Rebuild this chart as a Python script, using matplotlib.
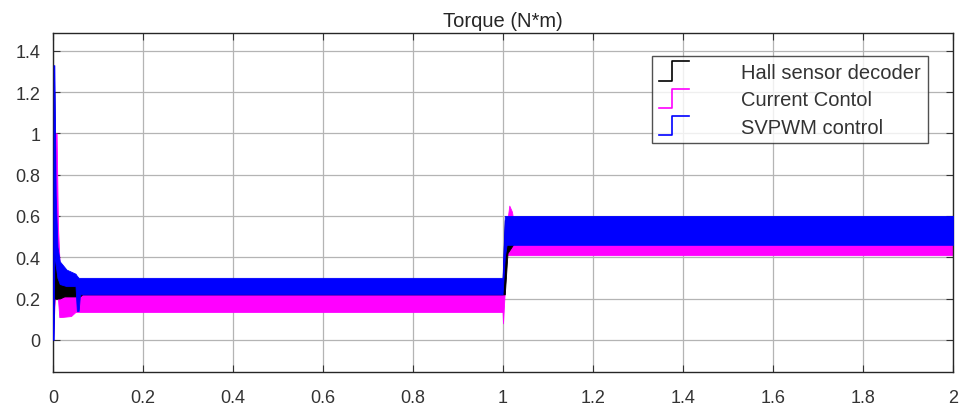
import numpy as np
import matplotlib.pyplot as plt
from matplotlib.lines import Line2D
from matplotlib.legend_handler import HandlerBase

plt.rcParams['font.family'] = ['Liberation Sans', 'DejaVu Sans']

# ripple band of each torque trace: time (s), lower and upper edge (N*m)
t_hall = [0, 0.003, 0.005, 0.009, 0.015, 0.025, 0.05, 0.06, 0.065, 0.999, 1.004, 1.01, 1.025, 2.0]
lo_hall = [0, 0.20, 0.20, 0.20, 0.20, 0.21, 0.21, 0.21, 0.22, 0.22, 0.22, 0.42, 0.47, 0.47]
hi_hall = [0, 1.20, 0.45, 0.30, 0.30, 0.27, 0.27, 0.29, 0.28, 0.28, 0.58, 0.58, 0.58, 0.58]

t_curr = [0, 0.004, 0.006, 0.008, 0.011, 0.014, 0.018, 0.04, 0.05, 0.999, 1.0, 1.003, 1.008, 1.014, 1.02, 1.025, 2.0]
lo_curr = [0, 0.20, 0.50, 0.50, 0.20, 0.11, 0.11, 0.115, 0.135, 0.135, 0.08, 0.20, 0.41, 0.41, 0.41, 0.41, 0.41]
hi_curr = [0, 0.60, 1.00, 1.00, 0.55, 0.40, 0.22, 0.22, 0.22, 0.22, 0.22, 0.50, 0.55, 0.65, 0.62, 0.55, 0.55]

t_svpwm = [0, 0.0015, 0.003, 0.006, 0.01, 0.015, 0.03, 0.05, 0.053, 0.057, 0.06, 0.999, 1.004, 1.008, 2.0]
lo_svpwm = [0, 0.0, 0.42, 0.36, 0.30, 0.27, 0.26, 0.26, 0.14, 0.14, 0.22, 0.22, 0.40, 0.46, 0.46]
hi_svpwm = [0, 1.33, 1.33, 0.70, 0.45, 0.38, 0.34, 0.32, 0.31, 0.30, 0.30, 0.30, 0.60, 0.60, 0.60]

labels = ['Hall sensor decoder', 'Current Contol', 'SVPWM control']
colors = ['black', '#ff00ff', '#0000ff']


class StepHandler(HandlerBase):
    # legend icon drawn as a small rising step, like the scope block legend
    def create_artists(self, legend, orig_handle, xdescent, ydescent,
                       width, height, fontsize, trans):
        x0, y0 = -xdescent, -ydescent
        xm = x0 + 0.45 * width
        xs = [x0, xm, xm, x0 + width]
        ys = [y0 - 0.2 * height, y0 - 0.2 * height, y0 + 1.15 * height, y0 + 1.15 * height]
        line = Line2D(xs, ys, color=orig_handle.get_color(), lw=1.2, transform=trans)
        return [line]


fig = plt.figure(figsize=(9.6, 4.1), dpi=100)
ax = fig.add_axes([53 / 960, 37 / 410, 900 / 960, 339 / 410])

# magenta first, black over it, blue on top
ax.fill_between(t_curr, lo_curr, hi_curr, color=colors[1], lw=0.6, zorder=2)
ax.fill_between(t_hall, lo_hall, hi_hall, color=colors[0], lw=0.6, zorder=3)
ax.fill_between(t_svpwm, lo_svpwm, hi_svpwm, color=colors[2], lw=0.6, zorder=4)

ax.set_xlim(0, 2)
ax.set_ylim(-0.156, 1.486)
ax.set_xticks(np.arange(0, 2.01, 0.2))
ax.set_xticklabels(['0', '0.2', '0.4', '0.6', '0.8', '1', '1.2', '1.4', '1.6', '1.8', '2'])
ax.set_yticks(np.arange(0, 1.41, 0.2))
ax.set_yticklabels(['0', '0.2', '0.4', '0.6', '0.8', '1', '1.2', '1.4'])
ax.grid(True, color='#b4b4b4', lw=0.9)
ax.set_axisbelow(True)
ax.tick_params(direction='in', top=True, right=True, length=5, width=0.8,
               labelsize=13, colors='#333333')
ax.tick_params(axis='y', pad=9)
ax.tick_params(axis='x', pad=12)
for s in ax.spines.values():
    s.set_linewidth(1.0)
    s.set_color('#262626')

ax.set_title('Torque (N*m)', fontsize=14.5, color='#262626', pad=5)

handles = [Line2D([], [], color=c) for c in colors]
leg = ax.legend(handles, labels, handler_map={Line2D: StepHandler()},
                loc='upper right', bbox_to_anchor=(0.972, 0.932),
                fontsize=14.5, frameon=True, fancybox=False, edgecolor='#262626',
                handlelength=1.5, handletextpad=2.6, labelspacing=0.42,
                borderpad=0.33, borderaxespad=0)
leg.get_frame().set_linewidth(1.0)
for txt in leg.get_texts():
    txt.set_color('#333333')

fig.savefig('out.png', dpi=100)
